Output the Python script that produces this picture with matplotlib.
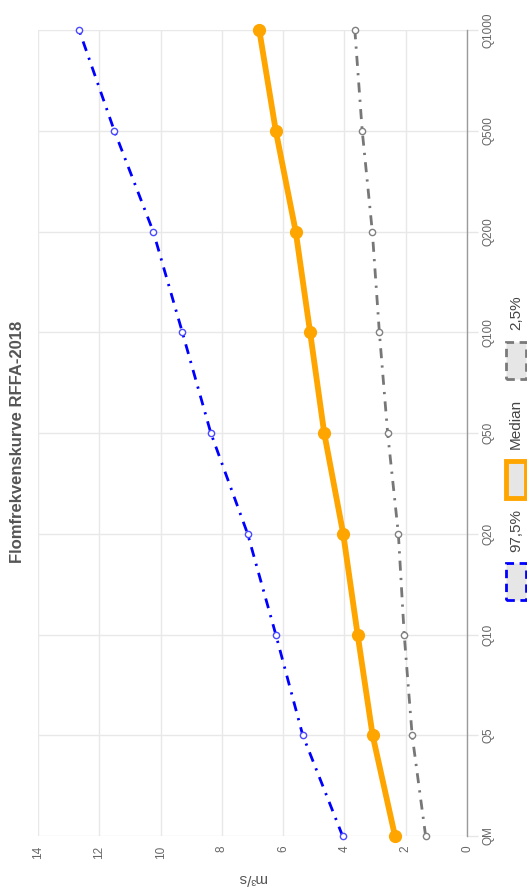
import numpy as np
import matplotlib
matplotlib.use("Agg")
import matplotlib.pyplot as plt
from matplotlib.patches import Rectangle

plt.rcParams['font.family'] = ['Liberation Sans', 'DejaVu Sans']

# Flood frequency curve data (m3/s)
categories = ["QM", "Q5", "Q10", "Q20", "Q50", "Q100", "Q200", "Q500", "Q1000"]
upper_975 = [4.06, 5.36, 6.24, 7.16, 8.36, 9.29, 10.24, 11.51, 12.66]
median = [2.35, 3.08, 3.57, 4.04, 4.66, 5.12, 5.59, 6.24, 6.78]
lower_025 = [1.35, 1.79, 2.05, 2.24, 2.59, 2.86, 3.09, 3.42, 3.66]
value_ticks = [0, 2, 4, 6, 8, 10, 12, 14]

title = "Flomfrekvenskurve RFFA-2018"
unit_label = "m³/s"
legend_labels = ["97,5%", "Median", "2,5%"]

W, H = 527, 890
fig = plt.figure(figsize=(W / 100, H / 100), dpi=100)
fig.patch.set_facecolor("white")

# Chart is laid out sideways: categories run up the right edge, values run right-to-left
left, right, top, bottom = 38, 467, 30, 836
ax = fig.add_axes([left / W, 1 - bottom / H, (right - left) / W, (bottom - top) / H])

pos = np.arange(len(categories))
dash_dot = (3.6, 2.6, 0.8, 2.6)

ax.plot(upper_975, pos, color="#0000ff", lw=2.0, dashes=dash_dot,
        marker="o", ms=4.5, mfc="white", mec="#4a4aff", mew=1.0, clip_on=False, zorder=3)
ax.plot(median, pos, color="#ffa500", lw=4.2, solid_capstyle="round",
        marker="o", ms=8.5, mfc="#ffa500", mec="#ffa500", clip_on=False, zorder=4)
ax.plot(lower_025, pos, color="#777777", lw=2.0, dashes=dash_dot,
        marker="o", ms=4.5, mfc="white", mec="#808080", mew=1.0, clip_on=False, zorder=3)

ax.set_xlim(14, 0)
ax.set_ylim(0, len(categories) - 1)
ax.set_xticks(value_ticks)
ax.set_xticklabels([str(v) for v in value_ticks])
ax.set_yticks(pos)
ax.set_yticklabels(categories)
ax.yaxis.tick_right()

ax.grid(True, color="#e8e8e8", lw=1)
ax.set_axisbelow(True)
for s in ["top", "left", "bottom"]:
    ax.spines[s].set_visible(False)
ax.spines["right"].set_color("#9a9a9a")
ax.spines["right"].set_linewidth(1.0)

ax.tick_params(axis="x", length=0, pad=7, labelrotation=90, labelsize=8.5, labelcolor="#666666")
ax.tick_params(axis="y", length=8, width=1, color="#e6e6e6", pad=3, labelrotation=90,
               labelsize=8.5, labelcolor="#666666")
for lab in ax.get_yticklabels():
    lab.set_verticalalignment("center")

def fx(px):
    return px / W

def fy(py):
    return 1 - py / H

# Title and unit label
fig.text(fx(18), fy(442), title, rotation=90, ha="center", va="center",
         fontsize=12, fontweight="bold", color="#555555")
fig.text(fx(252), fy(878), unit_label, rotation=180, ha="center", va="center",
         fontsize=11, color="#555555")

# Legend (vertical, along the right edge)
box_x0, box_w, box_h = 506, 20, 37
items = [
    (legend_labels[0], 581, 530, dict(ec="#0000ff", ls=(0, (3, 2)), lw=2.0)),
    (legend_labels[1], 479, 424, dict(ec="#ffa500", ls="-", lw=3.5)),
    (legend_labels[2], 360, 313, dict(ec="#7a7a7a", ls=(0, (3, 2)), lw=2.0)),
]
for label, box_c, text_c, style in items:
    rect = Rectangle((fx(box_x0), fy(box_c + box_h / 2)), box_w / W, box_h / H,
                     transform=fig.transFigure, fc="#e6e6e6", **style)
    fig.add_artist(rect)
    fig.text(fx(516), fy(text_c), label, rotation=90, ha="center", va="center",
             fontsize=11, color="#444444")

fig.savefig("out.png", dpi=100, facecolor="white")
